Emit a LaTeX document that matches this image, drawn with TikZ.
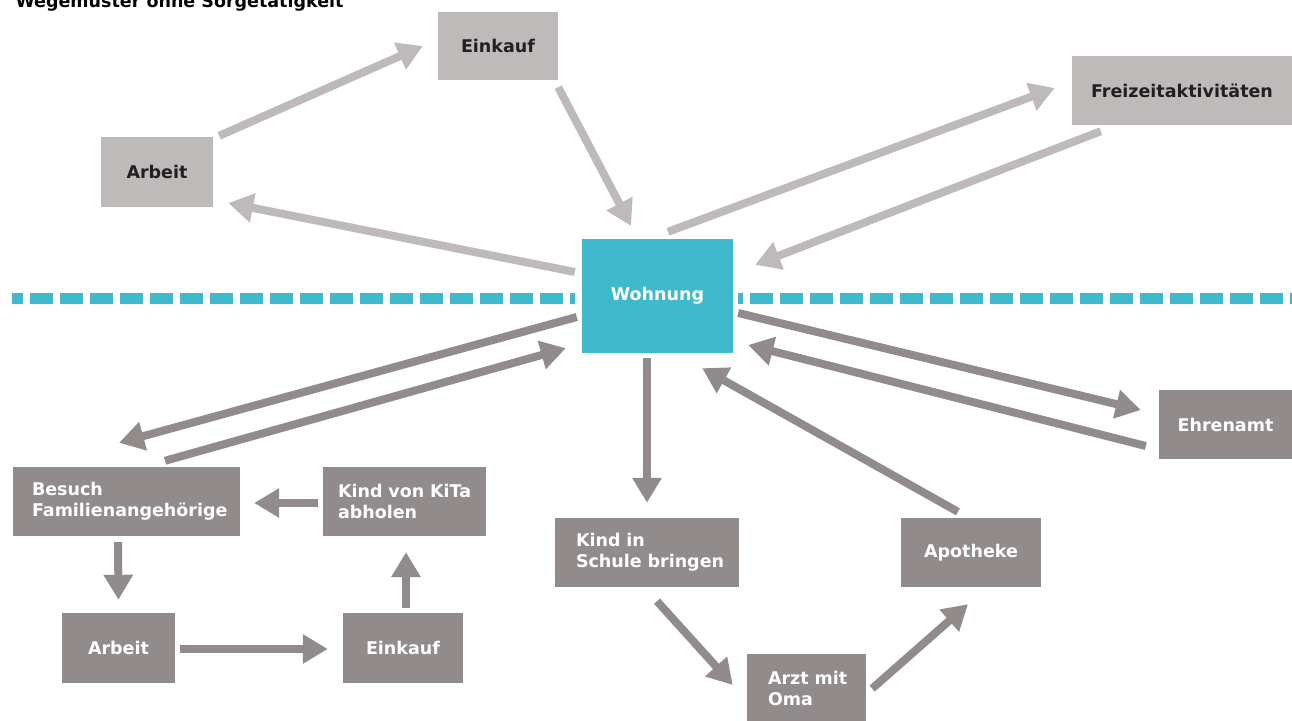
\documentclass[tikz,border=0pt]{standalone}
\usepackage{fontspec}
\setmainfont{DejaVu Sans}
\usepackage{xcolor}
\usetikzlibrary{arrows.meta}
\usetikzlibrary{calc}
\definecolor{wohnteal}{RGB}{65,185,205}
\definecolor{hellgrau}{RGB}{190,186,186}
\definecolor{dunkelgrau}{RGB}{145,139,140}
\definecolor{schrift}{RGB}{35,31,32}

\begin{document}
\begin{tikzpicture}[x=1pt,y=-1pt,
  lt/.style={draw=hellgrau,line width=8pt,-{Triangle[width=28pt,length=25pt]}},
  dk/.style={draw=dunkelgrau,line width=8pt,-{Triangle[width=28pt,length=25pt]}}]
 \tikzstyle{ziel}=[rectangle, inner sep=0pt, font=\bfseries\fontsize{17.5}{21}\selectfont]
 \tikzstyle{oben}=[ziel, fill=hellgrau, text=schrift]
 \tikzstyle{unten}=[ziel, fill=dunkelgrau, text=white]
 \tikzstyle{links}=[unten, align=left]
 \useasboundingbox (0,0) rectangle (1292,720);
 \node[anchor=base west, font=\bfseries\fontsize{17.5}{21}\selectfont] (titel) at (12,7) {Wegemuster ohne Sorgetätigkeit};
 % Trennlinie
 \draw[wohnteal, line width=11pt, dash pattern=on 23pt off 7pt, dash phase=12pt] (12,298.5) -- (575,298.5);
 \draw[wohnteal, line width=11pt, dash pattern=on 23pt off 7pt, dash phase=18pt] (738,298.5) -- (1292,298.5);
 % oben
 \node[oben, minimum width=120pt, minimum height=68pt] (einkaufA) at (498,46) {Einkauf};
 \node[oben, minimum width=112pt, minimum height=70pt] (arbeitA) at (157,172) {Arbeit};
 \node[oben, minimum width=220pt, minimum height=69pt] (freizeit) at (1182,90.5) {Freizeitaktivitäten};
 \node[ziel, fill=wohnteal, text=white, minimum width=151pt, minimum height=114pt] (wohnung) at (657.5,296) {Wohnung};
 % unten
 \node[unten, minimum width=133pt, minimum height=69pt] (ehrenamt) at (1225.5,424.5) {Ehrenamt};
 \node[links, text width=189pt, inner xsep=19pt, minimum height=69pt] (besuch) at (126.5,501.5) {Besuch\\\mbox{Familienangehörige}};
 \node[links, text width=133pt, inner xsep=15pt, minimum height=69pt] (kita) at (404.5,501.5) {\mbox{Kind von KiTa}\\abholen};
 \node[unten, minimum width=113pt, minimum height=70pt] (arbeitB) at (118.5,648) {Arbeit};
 \node[unten, minimum width=120pt, minimum height=70pt] (einkaufB) at (403,648) {Einkauf};
 \node[links, text width=142pt, inner xsep=21pt, minimum height=69pt] (schule) at (647,552.5) {Kind in\\\mbox{Schule bringen}};
 \node[unten, minimum width=140pt, minimum height=69pt] (apotheke) at (971,552.5) {Apotheke};
 \node[links, text width=77pt, inner xsep=21pt, minimum height=69pt] (arzt) at (806.5,688.5) {\mbox{Arzt mit}\\Oma};
 % Wege ohne Sorge
 \path
 ($(arbeitA.north east)+(6,-1)$) edge[lt] ($(einkaufA.west)+(-15,0)$)
 ($(einkaufA.south east)+(0,7)$) edge[lt] ($(wohnung.north)+(-26.5,-13)$)
 ($(wohnung.west)+(-7,-24)$) edge[lt] ($(arbeitA.east)+(15,31)$)
 ($(wohnung.north)+(10.5,-7)$) edge[lt] ($(freizeit.west)+(-17,-2.5)$)
 ($(freizeit.south west)+(29,6)$) edge[lt] ($(wohnung.north east)+(22,26)$);
 % Wege mit Sorge
 \path
 ($(wohnung.west)+(-5,21)$) edge[dk] ($(besuch.north)+(-7.5,-24)$)
 ($(besuch.north)+(38.5,-6)$) edge[dk] ($(wohnung.south west)+(-16,-5)$)
 ($(wohnung.east)+(5,17)$) edge[dk] ($(ehrenamt.west)+(-18,-14.5)$)
 ($(ehrenamt.west)+(-13,21.5)$) edge[dk] ($(wohnung.east)+(15,49)$)
 ($(wohnung.south)+(-10.5,5)$) edge[dk] ($(schule.north)+(0,-15)$)
 ($(apotheke.north)+(-13,-6)$) edge[dk] ($(wohnung.south east)+(-31,15)$)
 ($(kita.west)+(-5,1.5)$) edge[dk] ($(besuch.east)+(14,1.5)$)
 ($(besuch.south)+(-8.5,6)$) edge[dk] ($(arbeitB.north)+(0,-13)$)
 ($(arbeitB.east)+(5,1)$) edge[dk] ($(einkaufB.west)+(-15,1)$)
 ($(einkaufB.north)+(3,-5)$) edge[dk] ($(kita.south)+(1.5,16)$)
 ($(schule.south)+(10,14)$) edge[dk] ($(arzt.west)+(-14,-3.5)$)
 ($(arzt.east)+(6,0)$) edge[dk] ($(apotheke.south)+(-3,17)$);
\end{tikzpicture}
\end{document}
